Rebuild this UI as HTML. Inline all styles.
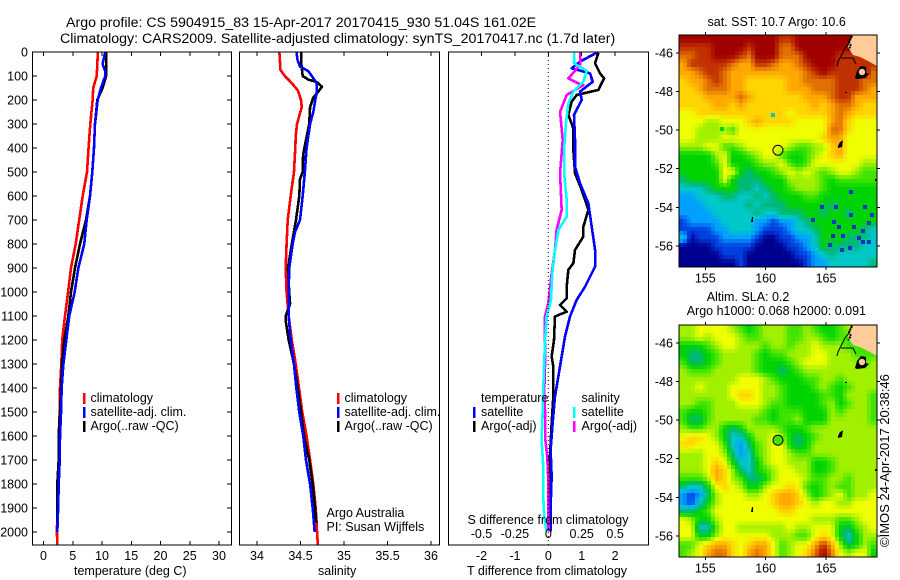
<!DOCTYPE html>
<html lang="en">
<head>
<meta charset="utf-8">
<title>Argo profile</title>
<style>
html,body{margin:0;padding:0;background:#fff;}
svg{display:block;}
text{font-family:"Liberation Sans",sans-serif;font-size:12.5px;fill:#000;}
.ttl{font-size:14.2px;}
</style>
</head>
<body>
<svg id="chart" width="900" height="580" viewBox="0 0 900 580" xmlns="http://www.w3.org/2000/svg">
<rect x="0" y="0" width="900" height="580" fill="#fff"/>
<text class="ttl" x="66" y="27">Argo profile: CS 5904915_83 15-Apr-2017 20170415_930 51.04S 161.02E</text>
<text class="ttl" x="60" y="43">Climatology: CARS2009. Satellite-adjusted climatology: synTS_20170417.nc (1.7d later)</text>
<g id="maps"></g>
<g id="plots"></g>

<text x="74" y="575">temperature (deg C)</text>
<text x="318" y="575">salinity</text>
<text x="467" y="575">T difference from climatology</text>
<text x="467.5" y="524">S difference from climatology</text>

<g>
<rect x="83" y="393" width="2.5" height="11" fill="#f00"/>
<text x="90.5" y="402">climatology</text>
<rect x="83" y="407" width="2.5" height="11" fill="#00f"/>
<text x="90.5" y="416">satellite-adj. clim.</text>
<rect x="83" y="421" width="2.5" height="11" fill="#000"/>
<text x="90.5" y="430">Argo(..raw -QC)</text>
</g>
<g>
<rect x="337" y="393" width="2.5" height="11" fill="#f00"/>
<text x="344.5" y="402">climatology</text>
<rect x="337" y="407" width="2.5" height="11" fill="#00f"/>
<text x="344.5" y="416">satellite-adj. clim.</text>
<rect x="337" y="421" width="2.5" height="11" fill="#000"/>
<text x="344.5" y="430">Argo(..raw -QC)</text>
</g>
<text x="326.5" y="517">Argo Australia</text>
<text x="326.5" y="531">PI: Susan Wijffels</text>
<g>
<text x="481" y="402">temperature</text>
<rect x="473" y="407" width="2.5" height="11" fill="#00f"/>
<text x="481" y="416">satellite</text>
<rect x="473" y="421" width="2.5" height="11" fill="#000"/>
<text x="481" y="430">Argo(-adj)</text>
<text x="581.5" y="402">salinity</text>
<rect x="573" y="407" width="2.5" height="11" fill="#0ff"/>
<text x="581.5" y="416">satellite</text>
<rect x="573" y="421" width="2.5" height="11" fill="#f0f"/>
<text x="581.5" y="430">Argo(-adj)</text>
</g>

<text x="707.5" y="26">sat. SST: 10.7 Argo: 10.6</text>
<text x="706.7" y="301">Altim. SLA: 0.2</text>
<text x="686.7" y="315">Argo h1000: 0.068 h2000: 0.091</text>
<text transform="translate(889,547) rotate(-90)" style="font-size:13px">©IMOS 24-Apr-2017 20:38:46</text>
</svg>

<script>
// ---- Profile data ----
const tempClimDepth = [0,100,150,200,300,400,500,600,700,800,900,1000,1100,1200,1300,1400,1500,1600,1700,1800,1900,2000,2054];
const tempClim = [9.3,9.1,8.5,8.4,8.0,7.7,7.44,6.7,6.1,5.5,4.7,4.2,3.67,3.2,3.05,2.82,2.77,2.6,2.6,2.36,2.36,2.3,2.35];
const tempSatDepth = [0,50,80,100,150,200,300,400,500,600,700,800,900,1000,1100,1200,1300,1400,1500,1600,1700,1800,1900,2000];
const tempSat = [10.56,10.1,10.56,10.56,9.83,9.26,8.8,8.63,8.34,7.95,7.38,6.97,5.95,5.33,4.4,3.9,3.4,3.1,3.0,2.82,2.77,2.6,2.5,2.36];
const tempArgoDepth = [0,50,100,150,200,300,400,500,600,700,800,900,1000,1100,1200,1300,1400,1500,1600,1700,1800,1960];
const tempArgo = [10.7,10.7,10.7,10.1,9.2,8.8,8.63,8.34,7.95,7.27,6.24,5.38,4.7,4.24,3.56,3.16,3.0,2.82,2.6,2.6,2.36,2.4];

const salClimDepth = [0,75,100,130,160,200,230,300,350,400,500,600,700,800,900,1000,1100,1200,1300,1400,1500,1600,1700,1800,1900,2000,2054];
const salClim = [34.257,34.27,34.32,34.40,34.47,34.506,34.514,34.46,34.445,34.44,34.425,34.387,34.353,34.34,34.33,34.34,34.364,34.40,34.445,34.483,34.52,34.57,34.61,34.647,34.675,34.69,34.70];
const salSatDepth = [0,30,60,80,100,130,170,200,250,300,400,500,600,700,750,800,900,1000,1100,1200,1300,1400,1500,1600,1700,1800,1900,2000];
const salSat = [34.456,34.463,34.494,34.59,34.63,34.686,34.686,34.67,34.647,34.61,34.57,34.55,34.525,34.494,34.437,34.41,34.37,34.364,34.364,34.387,34.425,34.452,34.486,34.532,34.563,34.61,34.64,34.663];
const salArgoDepth = [0,50,100,115,125,145,165,190,230,300,400,430,500,530,600,700,800,900,1000,1050,1100,1120,1200,1300,1400,1500,1600,1700,1800,1900,1960];
const salArgo = [34.51,34.51,34.525,34.59,34.686,34.747,34.705,34.647,34.61,34.60,34.544,34.53,34.525,34.494,34.486,34.448,34.40,34.356,34.37,34.38,34.33,34.33,34.364,34.425,34.468,34.506,34.54,34.60,34.64,34.667,34.685];

const dtSatDepth = [3,40,68,89,124,165,200,262,367,478,547,631,728,825,894,978,1033,1102,1186,1311,1436,1547,1658,1769,1894,1998];
const dtSat = [1.45,.95,.70,1.25,1.33,.95,1.0,.77,.80,.80,.95,1.2,1.3,1.4,1.4,1.1,.85,.65,.5,.35,.2,.13,.07,.1,.07,.07];
const dtArgoDepth = [3,47,89,110,158,179,207,262,318,408,505,575,658,728,769,825,880,908,978,1026,1054,1082,1102,1200,1269,1311,1436,1547,1686,1894,1998];
const dtArgo = [1.5,1.4,1.55,1.67,1.5,.85,.7,.6,.75,.75,.8,1.0,1.2,1.05,1.05,.8,.75,.6,.55,.55,.35,.55,.2,.17,.1,.15,.15,.1,.05,.05,.05];
const dsSatDepth = [3,47,78,124,165,214,297,408,505,617,686,742,825,922,1033,1102,1214,1311,1408,1491,1616,1727,1852,1936,1998];
const dsSat = [.195,.192,.288,.262,.188,.15,.132,.118,.118,.138,.138,.075,.05,.03,.02,-.0125,-.025,-.032,-.038,-.042,-.05,-.038,-.038,-.03,-.0125];
const dsArgoDepth = [3,54,110,131,138,179,249,367,505,658,742,825,922,1047,1102,1214,1311,1408,1491,1616,1686,1783,1894,1998];
const dsArgo = [.24,.238,.15,.225,.262,.138,.088,.108,.088,.1,.062,.05,.025,0,-.025,-.025,-.025,-.03,-.025,-.022,-.008,0,0,.002];

const depthTicks = [0,100,200,300,400,500,600,700,800,900,1000,1100,1200,1300,1400,1500,1600,1700,1800,1900,2000];
const tempTicks = [0,5,10,15,20,25,30];
const salTicks = [34,34.5,35,35.5,36];
const salTickLabels = ["34","34.5","35","35.5","36"];
const dtTicks = [-2,-1,0,1,2];
const dsTicks = [-0.5,-0.25,0,0.25,0.5];
const dsTickLabels = ["-0.5","-0.25","0","0.25","0.5"];
const lonTicks = [155,160,165];
const latTicks = [-46,-48,-50,-52,-54,-56];

// ---- Map grids: colour level per cell, north to south, 153E to 169E ----
const sstGrid = [
[13,13,13,13,13,13,13,13,13,13,13,13,12,12,13,13,13,13,13,13,13,13,13,13],
[12,12,12,12,13,13,13,13,12,13,13,13,11,11,13,13,13,13,13,13,13,12,13,13],
[11,11,12,12,13,13,13,12,11,13,13,13,11,11,11,13,13,13,13,12,12,12,12,13],
[10,12,12,12,12,12,11,10,10,12,12,11,10,10,11,12,13,13,13,12,12,12,12,12],
[10,10,11,12,12,11,10,10,10,10,10,10,10,10,10,11,12,13,12,12,12,12,13,11],
[9,10,10,11,12,11,10,10,9,9,9,9,9,10,10,11,11,11,11,12,12,12,11,11],
[9,9,10,11,11,11,10,10,9,9,9,9,9,10,10,10,11,11,11,12,12,12,11,10],
[9,9,9,10,10,10,10,11,10,9,9,9,9,9,9,10,10,10,11,12,12,10,10,10],
[9,9,9,9,10,10,9,10,9,9,9,9,9,9,9,9,10,9,10,11,11,10,9,9],
[8,8,9,9,9,9,9,9,9,9,9,9,9,8,9,9,9,9,10,11,10,9,9,9],
[8,8,8,7,7,8,8,8,9,10,9,9,9,9,8,8,8,8,10,11,9,8,8,8],
[8,8,7,7,7,7,6,8,8,8,8,8,8,8,8,8,8,8,11,11,9,8,8,8],
[8,8,7,7,7,8,8,8,8,8,8,8,8,8,8,8,8,9,10,10,8,8,8,8],
[7,7,7,8,8,6,6,7,8,8,8,8,8,7,6,6,7,7,9,10,8,8,8,8],
[5,5,5,5,7,8,5,5,6,7,8,8,6,5,5,6,7,8,9,10,8,8,8,8],
[5,5,5,5,6,8,5,5,5,6,7,7,8,6,5,6,8,8,8,8,8,8,7,7],
[5,5,5,5,5,8,8,5,4,5,5,6,7,8,7,8,7,6,7,8,8,7,6,6],
[4,5,5,5,5,8,5,4,4,4,5,5,5,7,7,7,7,6,5,6,6,6,6,6],
[3,3,3,4,5,5,5,4,4,3,4,5,5,6,7,7,7,6,5,5,5,5,5,5],
[2,2,3,3,3,4,4,3,3,4,3,4,5,5,5,6,6,5,5,5,5,5,5,5],
[2,2,2,3,3,3,3,3,4,3,4,4,4,5,5,5,5,5,4,5,5,5,5,5],
[2,2,2,2,3,3,3,3,3,4,3,3,4,4,4,5,5,4,5,5,4,5,5,5],
[1,2,2,2,2,3,3,3,3,2,2,1,2,2,3,4,5,5,5,5,5,5,5,5],
[1,1,1,1,2,2,3,3,3,2,1,1,1,2,3,3,4,5,5,5,5,5,4,3],
[3,0,1,1,1,2,2,2,2,1,0,0,1,1,2,2,3,5,5,5,4,4,4,3],
[0,0,0,0,1,1,1,1,1,0,0,0,0,1,1,2,3,5,4,4,4,4,3,3],
[0,0,0,0,0,1,1,1,0,0,0,0,0,0,1,1,2,3,4,3,3,3,3,3],
[0,0,0,0,0,0,0,1,0,0,0,0,0,0,0,1,2,2,3,3,3,3,3,4]
];
const slaGrid = [
[7,7,8,8,8,8,7,6,5,6,7,7,7,6,6,7,6,5,5,6,7,7,7,7],
[7,7,8,7,8,8,8,7,6,6,7,7,7,6,6,7,7,6,5,6,6,6,7,7],
[5,5,5,6,7,8,8,7,7,7,6,7,7,6,7,7,8,7,7,7,6,6,6,6],
[5,4,4,5,6,7,7,7,7,6,5,6,6,7,7,7,8,8,7,7,7,6,6,6],
[6,4,4,5,6,7,7,7,7,6,5,5,5,6,7,8,8,8,7,7,7,7,6,7],
[7,6,6,6,7,7,7,7,7,6,5,5,4,5,6,7,7,7,7,7,7,7,7,7],
[7,7,7,7,7,7,7,8,8,8,7,6,5,5,5,6,6,7,7,6,7,7,7,7],
[7,7,8,7,7,7,8,8,8,8,7,7,6,5,5,5,6,7,6,5,6,7,7,7],
[7,7,7,7,7,7,8,9,9,8,7,7,6,5,5,5,5,6,6,5,7,7,7,6],
[7,7,6,6,7,7,7,8,8,8,7,6,6,5,5,5,5,6,7,5,6,7,7,6],
[6,5,5,6,7,7,7,7,7,7,6,5,6,6,6,5,5,5,7,6,7,7,7,6],
[6,4,4,6,7,7,7,7,7,6,6,5,6,6,7,5,5,5,7,7,7,7,7,6],
[7,6,6,7,7,5,4,5,7,7,7,7,6,5,5,6,7,7,7,7,7,7,7,7],
[8,9,9,8,7,5,3,3,5,7,7,8,7,5,4,5,6,7,7,7,7,7,7,7],
[9,9,8,8,8,6,3,2,4,6,7,8,8,5,4,5,7,7,7,7,7,7,7,7],
[7,7,7,8,8,7,4,2,3,6,7,8,8,7,6,6,7,7,7,7,7,7,7,7],
[7,7,7,8,9,8,5,3,3,5,7,8,8,7,7,7,5,5,6,7,7,7,7,7],
[7,7,7,8,10,9,7,4,3,5,6,7,8,8,7,7,5,5,6,7,7,7,7,7],
[6,6,6,7,10,9,7,6,4,4,5,7,8,8,8,7,6,6,7,7,6,7,7,7],
[4,3,3,5,8,9,8,7,5,5,7,8,8,9,8,6,5,6,7,6,6,7,7,7],
[2,1,2,4,7,8,8,8,7,7,8,9,10,10,9,7,5,6,7,8,6,7,7,8],
[2,1,3,5,7,8,8,8,8,8,8,9,10,10,9,8,7,8,8,7,7,8,8,8],
[4,4,5,6,8,8,8,8,8,8,8,8,9,9,8,8,8,8,8,8,8,8,8,8],
[8,7,5,5,7,8,8,8,8,8,8,8,8,8,8,8,7,7,7,6,6,7,8,8],
[8,8,3,3,6,8,8,7,7,7,7,7,7,8,7,7,8,8,8,5,4,6,7,8],
[8,8,5,5,7,8,8,8,8,8,8,7,7,7,6,6,8,9,8,5,3,5,7,7],
[6,6,8,9,10,10,9,8,9,10,10,8,6,7,8,8,10,12,10,7,4,5,7,6],
[6,7,8,10,11,11,9,8,10,11,10,8,6,7,8,9,11,13,11,8,7,8,8,5]
];
// Isolated SST pixels that stand out from their surroundings
const speckleLon = [164.7,165.8,168.2,167.1,167.1,168.8,163.9,165.7,168.6,167.3,166.1,168.1,165.6,166.4,167.7,168.1,165.3,166.3,167.0,168.6,160.6,156.4];
const speckleLat = [-54.0,-54.0,-54.0,-53.2,-54.4,-54.4,-54.65,-54.74,-54.8,-55.0,-55.0,-55.2,-55.5,-55.5,-55.6,-55.8,-55.95,-56.2,-56.1,-55.8,-49.2,-49.96];
const speckleLevel = [0.8,0.8,0.8,0.8,0.8,0.8,0.8,0.8,0.8,0.8,0.8,0.8,0.8,0.8,0.8,0.8,0.8,0.8,0.8,0.8,3,5];
const argoLon = 161.02;
const argoLat = -51.04;
const slaMarkerLevel = 6;

// ---- Axis functions ----
const NS = "http://www.w3.org/2000/svg";
const TOP = 52, BOTTOM = 545;
const yDepth = d => TOP + d * 0.24;
const xTemp = v => 43.5 + v * 5.85;
const xSal = v => 257 + (v - 34) * 87;
const xDT = v => 548.3 + v * 33.4;
const xDS = v => 548.3 + v * 133.6;
const xLon = v => 705.3 + (v - 155) * 12.07;
const yLat = (v, top) => top + (-45.07 - v) * 19.3;

function mk(tag, parent, attrs) {
  const el = document.createElementNS(NS, tag);
  for (const k in attrs) el.setAttribute(k, attrs[k]);
  parent.appendChild(el);
  return el;
}
function label(parent, x, y, txt, anchor, name) {
  const t = mk("text", parent, {x: x, y: y, "text-anchor": anchor});
  
  
  t.textContent = txt;
}
function tick(parent, x1, y1, x2, y2, name) {
  const l = mk("line", parent, {x1: x1, y1: y1, x2: x2, y2: y2, stroke: "#000", "stroke-width": 1, "shape-rendering": "crispEdges"});
  
  
}
function frame(parent, x0, x1, y0, y1, name) {
  const r = mk("rect", parent, {x: x0, y: y0, width: x1 - x0, height: y1 - y0, fill: "none", stroke: "#000", "stroke-width": 1, "shape-rendering": "crispEdges"});
  
  
}
function series(parent, depths, values, xf, color, name) {
  const pts = depths.map((d, i) => xf(values[i]).toFixed(2) + "," + yDepth(d).toFixed(2)).join(" ");
  const p = mk("polyline", parent, {points: pts, fill: "none", stroke: color, "stroke-width": 2.6, "stroke-linejoin": "round", "shape-rendering": "crispEdges"});
  
  
}

const plots = document.getElementById("plots");

// Temperature panel
series(plots, tempClimDepth, tempClim, xTemp, "#f00", "temperature-climatology-line");
series(plots, tempArgoDepth, tempArgo, xTemp, "#000", "temperature-argo-line");
series(plots, tempSatDepth, tempSat, xTemp, "#00f", "temperature-satellite-line");
frame(plots, 32.5, 231.5, TOP, BOTTOM, "temperature-panel-frame");
depthTicks.forEach(d => {
  tick(plots, 32.5, yDepth(d), 37, yDepth(d), "depth-tick-left");
  tick(plots, 227, yDepth(d), 231.5, yDepth(d), "depth-tick-right");
  label(plots, 28, yDepth(d) + 4.5, String(d), "end", "depth-tick-label");
});
tempTicks.forEach(v => {
  tick(plots, xTemp(v), TOP, xTemp(v), TOP + 4, "temperature-tick-top");
  tick(plots, xTemp(v), BOTTOM - 4, xTemp(v), BOTTOM, "temperature-tick-bottom");
  label(plots, xTemp(v), 560, String(v), "middle", "temperature-tick-label");
});

// Salinity panel
series(plots, salClimDepth, salClim, xSal, "#f00", "salinity-climatology-line");
series(plots, salArgoDepth, salArgo, xSal, "#000", "salinity-argo-line");
series(plots, salSatDepth, salSat, xSal, "#00f", "salinity-satellite-line");
frame(plots, 239.5, 439.5, TOP, BOTTOM, "salinity-panel-frame");
salTicks.forEach((v, i) => {
  tick(plots, xSal(v), TOP, xSal(v), TOP + 4, "salinity-tick-top");
  tick(plots, xSal(v), BOTTOM - 4, xSal(v), BOTTOM, "salinity-tick-bottom");
  label(plots, xSal(v), 560, salTickLabels[i], "middle", "salinity-tick-label");
});

// Difference panel
series(plots, dtArgoDepth, dtArgo, xDT, "#000", "t-difference-argo-line");
series(plots, dtSatDepth, dtSat, xDT, "#00f", "t-difference-satellite-line");
series(plots, dsArgoDepth, dsArgo, xDS, "#f0f", "s-difference-argo-line");
series(plots, dsSatDepth, dsSat, xDS, "#0ff", "s-difference-satellite-line");
const zero = mk("line", plots, {x1: xDT(0), y1: TOP, x2: xDT(0), y2: BOTTOM, stroke: "#000", "stroke-width": 1, "stroke-dasharray": "1 3"});


frame(plots, 448.5, 648.5, TOP, BOTTOM, "difference-panel-frame");
dtTicks.forEach(v => {
  tick(plots, xDT(v), TOP, xDT(v), TOP + 4, "t-difference-tick");
  label(plots, xDT(v), 560, String(v), "middle", "t-difference-tick-label");
});
dsTicks.forEach((v, i) => {
  label(plots, xDS(v), 538, dsTickLabels[i], "middle", "s-difference-tick-label");
});

// ---- Maps ----
const stops = [
 [0,0,144],[0,64,224],[0,160,255],[0,200,200],[0,184,120],[0,212,0],[64,228,0],
 [160,240,0],[240,255,0],[255,212,0],[255,168,0],[224,112,0],[192,48,0],[160,0,0]
];
function levelColor(v) {
  const c = Math.max(0, Math.min(13, v));
  const i = Math.min(12, Math.floor(c));
  const f = c - i;
  const a = stops[i], b = stops[i + 1];
  return "rgb(" + [0,1,2].map(k => Math.round(a[k] + (b[k] - a[k]) * f)).join(",") + ")";
}
function sample(grid, u, v) {
  const rows = grid.length, cols = grid[0].length;
  const x = Math.max(0, Math.min(cols - 1.001, u - 0.5));
  const y = Math.max(0, Math.min(rows - 1.001, v - 0.5));
  const i = Math.floor(x), j = Math.floor(y);
  const fx = x - i, fy = y - j;
  return (grid[j][i] * (1 - fx) + grid[j][i + 1] * fx) * (1 - fy) +
         (grid[j + 1][i] * (1 - fx) + grid[j + 1][i + 1] * fx) * fy;
}
const mapsLayer = document.getElementById("maps");
function drawMap(grid, top, cellName, prefix, markerFill) {
  const MX0 = 679, MW = 198, MH = 232, STEP = 4;
  const g = mk("g", mapsLayer, {"shape-rendering": "crispEdges"});
  
  
  for (let py = 0; py < MH; py += STEP) {
    for (let px = 0; px < MW; px += STEP) {
      const u = (px + STEP / 2) / MW * grid[0].length;
      const v = (py + STEP / 2) / MH * grid.length;
      const r = mk("rect", g, {x: MX0 + px, y: top + py, width: Math.min(STEP, MW - px), height: Math.min(STEP, MH - py), fill: levelColor(sample(grid, u, v))});
      
      
    }
  }
  if (prefix === "sst") {
    speckleLon.forEach((lon, i) => {
      const s = mk("rect", g, {x: Math.round(xLon(lon) - 2), y: Math.round(yLat(speckleLat[i], top) - 2), width: 4, height: 4, fill: levelColor(speckleLevel[i])});
      
      
    });
  }
  // Land and islands
  const land = mk("g", mapsLayer, {transform: "translate(0," + (top - 35) + ")"});
  
  
  const nz = mk("polygon", land, {points: "852,35 848,47 853,55 860,57 868,61 877,66 877,35", fill: "#ffcc99"});
  
  
  const coast = mk("polyline", land, {points: "852,35 849,43 845,48 842,54 838,62 837,66", fill: "none", stroke: "#000", "stroke-width": 1});
  
  
  const coast2 = mk("polyline", land, {points: "841,58 848,58 853,58 856,64", fill: "none", stroke: "#000", "stroke-width": 1});
  
  
  const coast3 = mk("polyline", land, {points: "852,36 849,42 851,46 848,50", fill: "none", stroke: "#000", "stroke-width": 2, "stroke-dasharray": "2 1"});
  
  
  const stewart = mk("polygon", land, {points: "857,71 861,66 866,67 866,73 869,74 865,78 857,79 855,78", fill: "#000"});
  
  
  const stewart2 = mk("circle", land, {cx: 862, cy: 72, r: 3.2, fill: "#ffcc99"});
  
  
  const auckland = mk("polygon", land, {points: "838,146 840,142 842,141 843,140 842,147 838,148", fill: "#000"});
  
  
  const macq = mk("polygon", land, {points: "751,222 752,217 753,217 753,222", fill: "#000"});
  
  
  const snares = mk("rect", land, {x: 845, y: 92, width: 2, height: 1, fill: "#000"});
  
  
  const camp = mk("rect", land, {x: 875, y: 179, width: 2, height: 2, fill: "#000"});
  
  

  const m = mk("circle", mapsLayer, {cx: xLon(argoLon), cy: yLat(argoLat, top), r: 5, fill: markerFill, stroke: "#000", "stroke-width": 1});
  
  

  frame(mapsLayer, MX0, MX0 + MW, top, top + MH, prefix + "-map-frame");
  lonTicks.forEach(v => {
    tick(mapsLayer, xLon(v), top - 3, xLon(v), top, prefix + "-lon-tick");
    tick(mapsLayer, xLon(v), top + MH, xLon(v), top + MH + 3, prefix + "-lon-tick");
    label(mapsLayer, xLon(v), top + MH + 15.5, String(v), "middle", prefix + "-lon-tick-label");
  });
  latTicks.forEach(v => {
    tick(mapsLayer, MX0 - 3, yLat(v, top), MX0, yLat(v, top), prefix + "-lat-tick");
    tick(mapsLayer, MX0 + MW, yLat(v, top), MX0 + MW + 3, yLat(v, top), prefix + "-lat-tick");
    label(mapsLayer, 673, yLat(v, top) + 4.5, String(v), "end", prefix + "-lat-tick-label");
  });
}
drawMap(sstGrid, 35, "sst-cell", "sst", "none");
drawMap(slaGrid, 325, "sla-cell", "sla", levelColor(slaMarkerLevel));
</script>
</body>
</html>
